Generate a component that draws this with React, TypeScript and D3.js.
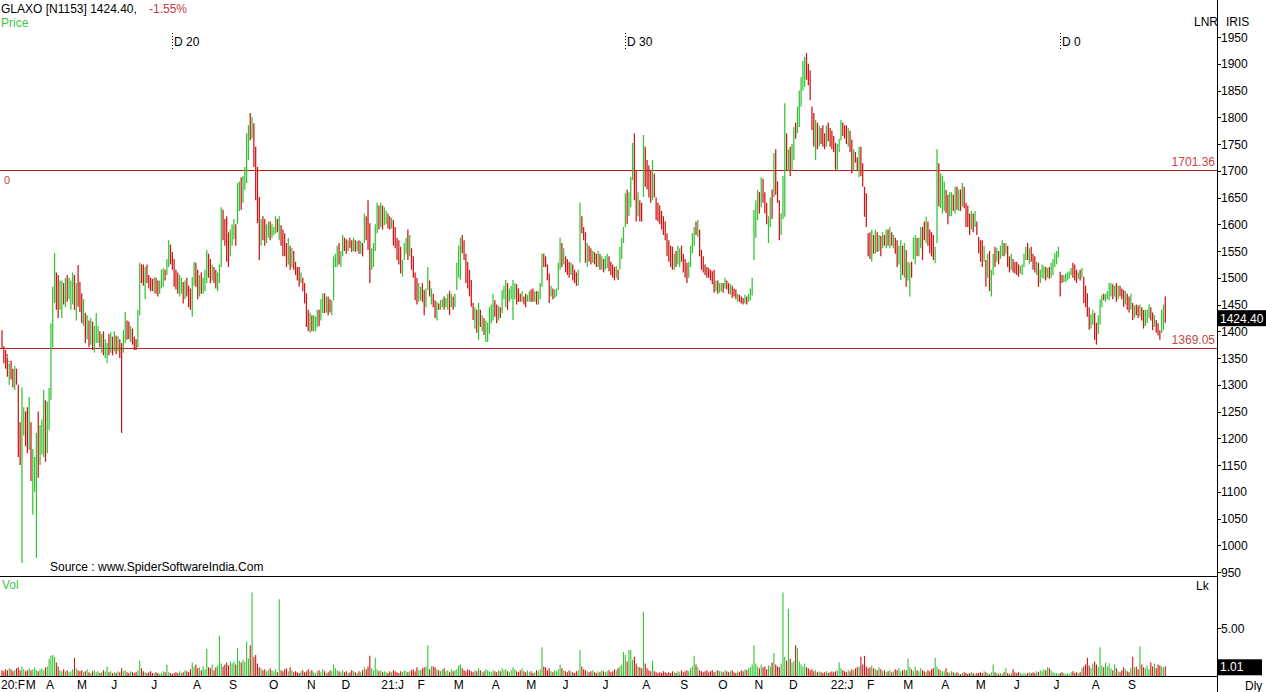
import React from "react";
import * as d3 from "d3";

// ---------- DATA ----------
const monthLabels = ["20:F","M","A","M","J","J","A","S","O","N","D","21:J","F","M","A","M","J","J","A","S","O","N","D","22:J","F","M","A","M","J","J","A","S"];

// bars: [high, low, close] per trading day, grouped by month
const bars2020: number[][][] = [
  [[1402,1368,1375],[1372,1340,1350],[1365,1330,1340],[1350,1315,1320],[1340,1300,1325]],
  [[1345,1310,1318],[1330,1295,1300],[1335,1290,1325],[1330,1300,1305],[1300,1165,1180],[1230,1150,1160],[1295,967,1200],[1258,1205,1215],[1250,1185,1190],[1258,1172,1180],[1277,1178,1250],[1230,1120,1130],[1180,1057,1150],[1165,1100,1160],[1210,976,1190],[1250,1126,1135],[1225,1150,1215],[1235,1170,1228],[1290,1165,1275],[1271,1156,1165],[1268,1172,1190]],
  [[1294,1215,1280],[1415,1272,1400],[1483,1370,1470],[1546,1453,1470],[1510,1440,1455],[1505,1425,1440],[1495,1440,1480],[1495,1425,1490],[1490,1450,1460],[1500,1445,1490],[1505,1455,1465],[1500,1460,1470],[1495,1440,1485],[1510,1450,1500],[1505,1440,1450],[1490,1420,1480],[1524,1446,1460]],
  [[1492,1436,1450],[1471,1415,1425],[1460,1410,1440],[1434,1378,1390],[1430,1385,1420],[1420,1370,1380],[1425,1375,1415],[1418,1365,1370],[1410,1360,1375],[1434,1378,1400],[1410,1378,1405],[1400,1370,1375],[1395,1360,1390],[1400,1355,1360],[1385,1350,1365],[1378,1340,1372],[1395,1355,1360],[1398,1360,1390],[1390,1355,1365]],
  [[1400,1362,1395],[1392,1357,1365],[1390,1362,1385],[1385,1350,1378],[1378,1210,1370],[1402,1360,1395],[1436,1378,1420],[1420,1384,1390],[1418,1385,1388],[1410,1380,1405],[1405,1375,1385],[1390,1365,1370],[1385,1365,1368],[1440,1370,1430],[1528,1430,1510],[1525,1490,1500],[1525,1485,1495],[1520,1460,1515],[1525,1490,1498],[1505,1480,1490],[1500,1475,1482],[1498,1475,1480]],
  [[1501,1471,1495],[1500,1470,1480],[1495,1465,1472],[1495,1470,1490],[1515,1480,1505],[1518,1483,1512],[1515,1495,1500],[1535,1505,1530],[1570,1520,1560],[1562,1525,1550],[1548,1515,1530],[1535,1483,1495],[1515,1478,1485],[1510,1470,1480],[1505,1465,1490],[1500,1470,1495],[1492,1452,1460],[1495,1460,1475],[1500,1465,1470],[1485,1445,1455],[1480,1440,1450],[1501,1427,1490],[1530,1485,1520]],
  [[1528,1483,1490],[1515,1460,1470],[1505,1465,1500],[1510,1470,1475],[1500,1470,1480],[1515,1475,1510],[1552,1490,1540],[1545,1500,1510],[1535,1490,1500],[1525,1495,1505],[1520,1490,1495],[1515,1480,1490],[1510,1475,1505],[1525,1490,1520],[1632,1520,1615],[1627,1570,1580],[1610,1560,1570],[1615,1530,1545],[1585,1520,1535],[1590,1540,1575]],
  [[1600,1560,1590],[1610,1572,1600],[1600,1560,1595],[1677,1600,1665],[1680,1625,1670],[1688,1627,1640],[1690,1640,1685],[1707,1664,1700],[1770,1677,1760],[1785,1720,1775],[1808,1757,1770],[1800,1760,1790],[1789,1707,1720],[1745,1645,1660],[1707,1602,1620],[1651,1533,1560],[1610,1560,1600],[1615,1570,1580],[1610,1560,1575],[1600,1565,1595],[1605,1575,1600],[1605,1570,1580]],
  [[1600,1575,1580],[1595,1580,1590],[1615,1583,1610],[1610,1585,1605],[1615,1570,1612],[1598,1560,1565],[1590,1540,1550],[1583,1540,1545],[1565,1520,1525],[1575,1525,1530],[1560,1515,1520],[1555,1520,1545],[1550,1515,1525],[1530,1505,1510],[1520,1495,1500],[1520,1483,1490],[1510,1490,1505],[1500,1475,1495],[1490,1452,1460],[1471,1408,1420],[1440,1400,1410]],
  [[1435,1397,1425],[1430,1400,1405],[1430,1400,1420],[1428,1400,1422],[1440,1408,1435],[1440,1410,1415],[1460,1420,1450],[1471,1434,1465],[1471,1434,1440],[1465,1435,1460],[1465,1430,1440],[1460,1435,1438],[1458,1430,1450],[1540,1458,1530],[1545,1520,1540],[1560,1520,1550],[1565,1525,1535],[1550,1520,1545],[1580,1540,1570]],
  [[1575,1550,1560],[1572,1545,1555],[1570,1550,1565],[1575,1555,1560],[1570,1548,1552],[1575,1550,1570],[1570,1548,1555],[1568,1550,1560],[1570,1545,1550],[1568,1545,1560],[1565,1540,1548],[1620,1565,1610],[1615,1570,1605],[1645,1552,1570],[1602,1490,1530],[1555,1515,1540],[1565,1520,1545],[1600,1550,1590],[1640,1583,1630],[1635,1590,1620],[1640,1595,1625],[1635,1590,1600]],
];

const bars2021: number[][][] = [
  [[1632,1598,1610],[1625,1600,1620],[1620,1592,1600],[1615,1590,1595],[1612,1592,1608],[1608,1560,1570],[1595,1555,1565],[1575,1533,1545],[1570,1525,1535],[1558,1508,1515],[1533,1502,1525],[1565,1533,1555],[1575,1545,1570],[1590,1533,1545],[1580,1540,1550],[1555,1515,1520],[1540,1500,1505],[1510,1458,1465],[1500,1450,1460],[1490,1455,1470]],
  [[1483,1458,1475],[1490,1455,1460],[1477,1430,1440],[1480,1445,1465],[1520,1477,1490],[1495,1465,1470],[1480,1450,1475],[1470,1445,1448],[1458,1425,1435],[1455,1420,1450],[1452,1440,1442],[1458,1440,1455],[1460,1445,1458],[1465,1440,1445],[1462,1445,1460],[1470,1440,1465],[1475,1430,1440],[1470,1445,1465],[1465,1440,1448],[1470,1445,1465]],
  [[1528,1477,1520],[1560,1500,1550],[1575,1496,1565],[1580,1546,1555],[1570,1533,1540],[1545,1490,1500],[1530,1480,1490],[1515,1465,1470],[1496,1446,1455],[1453,1421,1430],[1445,1405,1440],[1440,1397,1405],[1453,1384,1445],[1440,1408,1415],[1430,1400,1425],[1425,1393,1398],[1420,1380,1410],[1416,1380,1412],[1445,1395,1440],[1450,1415,1445],[1470,1420,1465]],
  [[1458,1427,1450],[1450,1415,1425],[1448,1420,1440],[1445,1425,1430],[1477,1434,1470],[1485,1460,1475],[1496,1445,1490],[1490,1440,1450],[1480,1455,1475],[1485,1460,1480],[1496,1421,1485],[1490,1460,1488],[1488,1450,1470],[1480,1455,1460],[1470,1455,1458],[1475,1455,1470],[1465,1450,1462],[1470,1445,1450],[1468,1455,1465]],
  [[1475,1455,1470],[1478,1455,1460],[1480,1455,1458],[1475,1455,1470],[1475,1450,1455],[1475,1450,1465],[1490,1460,1485],[1545,1483,1535],[1545,1520,1525],[1540,1520,1522],[1525,1495,1515],[1508,1453,1465],[1485,1465,1480],[1480,1460,1465],[1478,1462,1470],[1480,1465,1478],[1528,1477,1520],[1575,1515,1565],[1565,1520,1530],[1555,1525,1550]],
  [[1540,1510,1520],[1535,1505,1512],[1530,1500,1505],[1528,1505,1525],[1525,1495,1500],[1515,1490,1495],[1510,1485,1490],[1515,1485,1510],[1640,1528,1630],[1615,1583,1590],[1595,1570,1575],[1585,1528,1540],[1565,1520,1555],[1560,1530,1545],[1555,1525,1535],[1550,1528,1545],[1548,1525,1530],[1545,1520,1525],[1550,1520,1540],[1545,1515,1520],[1540,1515,1530],[1535,1510,1515]],
  [[1540,1515,1530],[1545,1518,1535],[1540,1512,1520],[1530,1505,1510],[1525,1500,1505],[1520,1495,1500],[1522,1500,1515],[1515,1496,1510],[1558,1515,1550],[1575,1535,1570],[1595,1565,1590],[1658,1595,1650],[1665,1600,1610],[1660,1615,1625],[1688,1632,1680],[1752,1683,1745],[1770,1645,1660],[1700,1605,1615],[1660,1615,1620],[1645,1605,1612],[1640,1605,1610],[1767,1651,1750]],
  [[1745,1670,1700],[1720,1665,1680],[1710,1650,1660],[1700,1640,1655],[1720,1645,1700],[1695,1650,1660],[1650,1608,1615],[1640,1605,1610],[1635,1600,1605],[1625,1590,1595],[1615,1580,1585],[1605,1570,1575],[1583,1540,1550],[1570,1530,1535],[1560,1520,1525],[1558,1515,1520],[1545,1515,1535],[1550,1520,1525],[1560,1525,1530],[1555,1520,1550],[1560,1530,1535]],
  [[1545,1510,1515],[1535,1500,1505],[1528,1490,1495],[1530,1500,1525],[1560,1520,1555],[1583,1546,1575],[1595,1560,1590],[1605,1580,1585],[1608,1576,1600],[1590,1540,1550],[1552,1515,1525],[1540,1510,1515],[1525,1505,1510],[1520,1500,1508],[1518,1500,1505],[1515,1495,1500],[1512,1488,1495],[1515,1472,1485],[1495,1475,1490],[1495,1470,1475],[1490,1472,1480]],
  [[1490,1475,1488],[1490,1472,1478],[1500,1480,1485],[1495,1478,1482],[1490,1470,1480],[1488,1468,1485],[1485,1462,1470],[1480,1465,1468],[1478,1460,1465],[1470,1455,1468],[1468,1455,1460],[1465,1452,1458],[1462,1450,1455],[1468,1452,1455],[1465,1450,1452],[1470,1455,1468],[1480,1458,1475],[1500,1467,1495],[1627,1533,1615],[1645,1575,1635]],
  [[1664,1608,1655],[1660,1620,1625],[1688,1632,1675],[1685,1640,1650],[1660,1620,1625],[1640,1600,1610],[1615,1565,1612],[1650,1595,1640],[1665,1610,1620],[1733,1651,1720],[1740,1655,1670],[1680,1640,1650],[1645,1570,1590],[1620,1580,1615],[1690,1610,1680],[1826,1614,1760],[1770,1700,1720],[1740,1700,1735],[1745,1690,1720]],
  [[1750,1700,1740],[1782,1720,1775],[1790,1760,1765],[1820,1770,1810],[1850,1782,1840],[1875,1820,1865],[1905,1850,1895],[1913,1857,1905],[1920,1870,1880],[1900,1860,1870],[1888,1832,1840],[1820,1776,1785],[1808,1745,1760],[1795,1720,1780],[1790,1740,1750],[1785,1745,1775],[1780,1750,1760],[1785,1745,1755],[1770,1740,1750],[1785,1745,1780],[1790,1755,1765],[1780,1745,1755],[1775,1740,1748]],
];

const bars2022: number[][][] = [
  [[1765,1735,1740],[1752,1702,1715],[1750,1700,1740],[1760,1735,1755],[1795,1757,1785],[1790,1765,1770],[1785,1760,1765],[1785,1750,1758],[1780,1745,1770],[1775,1735,1745],[1758,1695,1720],[1740,1700,1730],[1735,1715,1720],[1725,1700,1705],[1745,1688,1720],[1745,1690,1700],[1714,1670,1680],[1670,1614,1625],[1658,1595,1600],[1583,1540,1550]],
  [[1585,1535,1545],[1590,1530,1575],[1580,1545,1555],[1590,1545,1580],[1585,1548,1555],[1580,1550,1575],[1578,1540,1545],[1585,1555,1580],[1580,1560,1565],[1590,1555,1585],[1590,1560,1570],[1595,1555,1590],[1585,1560,1565],[1580,1555,1575],[1575,1545,1550],[1570,1520,1530],[1560,1525,1540],[1570,1496,1560],[1560,1505,1515],[1565,1500,1550]],
  [[1552,1483,1495],[1530,1495,1505],[1528,1465,1520],[1530,1500,1510],[1575,1535,1565],[1580,1525,1570],[1575,1540,1545],[1575,1540,1570],[1595,1555,1590],[1595,1533,1585],[1605,1570,1580],[1614,1565,1605],[1605,1560,1570],[1590,1546,1555],[1585,1540,1550],[1580,1533,1545],[1558,1528,1550],[1740,1565,1715],[1714,1633,1650],[1695,1630,1660],[1690,1620,1670]],
  [[1680,1625,1670],[1664,1621,1630],[1655,1600,1615],[1660,1615,1620],[1660,1615,1645],[1655,1625,1630],[1670,1620,1660],[1670,1627,1635],[1665,1625,1655],[1665,1625,1640],[1677,1633,1670],[1670,1630,1640],[1640,1595,1605],[1635,1595,1600],[1620,1580,1590],[1625,1590,1615],[1620,1585,1590],[1625,1595,1600],[1605,1580,1585]],
  [[1576,1546,1555],[1570,1530,1540],[1570,1520,1530],[1560,1530,1550],[1533,1483,1495],[1545,1500,1530],[1550,1475,1490],[1515,1465,1510],[1545,1505,1535],[1558,1520,1525],[1555,1530,1540],[1550,1525,1530],[1560,1535,1555],[1570,1540,1565],[1565,1540,1545],[1565,1545,1560],[1560,1520,1530],[1540,1510,1515],[1545,1515,1520],[1535,1510,1515],[1530,1508,1512]],
  [[1530,1505,1510],[1525,1502,1508],[1522,1508,1510],[1525,1505,1520],[1545,1520,1540],[1558,1533,1550],[1565,1533,1545],[1555,1525,1550],[1558,1530,1535],[1545,1515,1520],[1540,1510,1515],[1530,1505,1525],[1528,1483,1495],[1515,1490,1500],[1525,1500,1505],[1522,1498,1510],[1520,1495,1500],[1518,1500,1515],[1520,1498,1502],[1528,1500,1520],[1535,1505,1530],[1546,1520,1540]],
  [[1550,1525,1545],[1558,1538,1552],[1511,1465,1500],[1505,1490,1495],[1505,1492,1500],[1508,1492,1505],[1510,1495,1508],[1512,1498,1510],[1518,1505,1515],[1528,1500,1505],[1525,1495,1500],[1515,1490,1495],[1510,1498,1505],[1515,1495,1500],[1518,1500,1510],[1502,1453,1462],[1485,1445,1450],[1471,1427,1435],[1445,1403,1410],[1432,1405,1415],[1440,1412,1430]],
  [[1434,1384,1395],[1416,1375,1385],[1430,1395,1420],[1460,1412,1450],[1468,1445,1462],[1470,1458,1460],[1470,1455,1468],[1475,1460,1472],[1490,1458,1485],[1490,1465,1488],[1488,1460,1470],[1485,1465,1480],[1490,1455,1465],[1485,1460,1478],[1485,1465,1470],[1480,1460,1465],[1477,1446,1452],[1475,1450,1458],[1470,1440,1445],[1465,1435,1440]],
  [[1470,1440,1448],[1453,1421,1430],[1448,1425,1442],[1450,1430,1435],[1448,1425,1430],[1450,1428,1446],[1445,1420,1440],[1440,1405,1430],[1440,1410,1436],[1440,1415,1438],[1450,1425,1445],[1445,1420,1428],[1435,1402,1410],[1430,1408,1425],[1421,1397,1405],[1415,1392,1398],[1402,1384,1390],[1440,1397,1435],[1450,1402,1446.8],[1465,1416,1424.4]],
];

// volume in lakh shares, per trading day, grouped by month
const vol2020: number[][] = [
  [0.6,0.5,0.7,0.6,0.8],
  [0.7,0.5,0.6,0.8,0.9,0.6,1.0,0.7,0.5,0.6,0.8,0.6,0.7,0.9,0.6,0.5,0.7,0.8,0.6,0.9,1.0],
  [1.8,2.1,2.2,2.0,1.4,1.0,0.6,0.5,0.7,0.5,0.6,0.4,0.5,0.7,1.9,0.8,0.6],
  [0.5,0.6,0.4,0.5,0.7,0.4,0.3,0.5,0.6,0.4,0.5,0.3,0.4,0.6,0.5,1.0,0.4,0.5,0.3],
  [0.4,0.3,0.5,0.4,0.8,0.5,0.6,0.4,0.3,0.5,0.4,0.3,0.4,0.6,1.6,0.8,0.5,0.4,0.3,0.4,0.5,0.3],
  [0.3,0.4,0.3,0.2,0.3,0.5,0.4,1.2,0.4,0.3,0.2,0.3,0.4,0.3,0.5,0.3,0.4,0.6,0.5,0.4,0.7,1.4,1.0],
  [1.2,0.8,0.9,0.6,1.0,0.7,2.8,0.9,0.8,1.2,0.6,0.9,1.1,4.2,1.3,1.0,1.2,1.4,1.1,1.5],
  [1.3,1.5,1.2,2.9,1.6,1.4,1.7,1.5,3.6,1.8,3.2,8.7,2.0,2.2,1.3,0.9,0.8,0.6,0.7,0.5,0.6,0.8],
  [0.6,0.5,0.7,0.4,8.0,0.6,0.5,0.7,0.8,0.5,0.9,0.6,0.4,0.5,0.4,0.3,0.5,0.6,0.4,0.5,0.7],
  [0.5,0.6,0.4,0.3,0.5,0.6,0.4,0.7,0.5,0.3,0.4,0.6,0.5,1.2,0.8,0.6,0.5,0.4,0.6],
  [0.4,0.5,0.3,0.4,0.6,0.5,0.4,0.3,0.5,0.4,0.6,0.9,0.7,1.0,2.1,0.8,0.6,1.9,0.7,0.5,0.6,0.4],
];
const vol2021: number[][] = [
  [0.5,0.4,0.3,0.5,0.4,0.6,0.5,0.4,0.3,0.5,0.4,0.6,0.5,0.4,0.5,0.6,0.7,0.5,0.9,0.6],
  [0.6,0.8,0.9,1.0,3.2,0.7,1.0,1.0,0.9,0.7,0.6,0.5,0.7,0.8,0.5,0.6,0.4,0.7,0.5,0.6],
  [0.7,1.1,1.2,0.8,0.6,0.5,0.7,0.6,0.5,0.4,0.6,0.5,0.8,0.6,0.4,0.5,0.7,0.6,0.5,0.4,0.6],
  [0.5,0.4,0.6,0.5,0.8,0.6,0.7,0.5,0.4,0.6,0.9,0.7,0.5,0.4,0.6,0.8,0.5,0.4,0.6],
  [0.4,0.5,0.3,0.4,0.6,0.5,0.7,3.0,1.0,0.9,0.6,0.8,0.5,0.4,0.6,0.5,0.7,1.2,0.8,0.6],
  [0.5,0.4,0.6,0.5,0.4,0.3,0.5,0.6,2.7,1.0,0.7,0.6,0.5,0.4,0.5,0.6,0.4,0.3,0.5,0.4,0.6,0.5],
  [0.4,0.5,0.6,0.4,0.5,0.7,0.6,0.8,1.0,1.2,2.5,2.2,1.5,2.7,2.7,1.7,2.0,1.3,1.0,0.9,0.8,6.7],
  [1.3,0.8,0.6,0.5,1.6,0.5,0.4,0.3,0.4,0.3,0.5,0.4,0.3,0.4,0.3,0.5,0.4,0.3,0.5,0.4,0.6],
  [0.4,0.5,0.6,0.5,0.8,1.0,2.1,1.2,0.9,0.6,0.5,0.4,0.5,0.6,0.4,0.5,0.6,0.4,0.5,0.6,0.5],
  [0.5,0.4,0.6,0.5,0.4,0.5,0.6,0.4,0.3,0.5,0.4,0.6,0.5,0.7,0.6,0.8,0.9,1.2,3.2,1.3],
  [1.0,0.8,1.2,0.9,1.0,0.7,1.1,1.0,1.4,2.4,1.2,1.0,0.9,1.3,8.7,2.0,1.6,7.0,1.8],
  [1.4,1.6,3.2,2.9,1.5,1.2,1.0,1.3,0.9,0.8,0.6,0.7,0.5,0.6,0.4,0.5,0.4,0.3,0.4,0.5,0.3,0.4,0.5],
];
const vol2022: number[][] = [
  [0.4,0.5,0.6,1.4,0.8,0.6,0.5,0.4,0.6,0.5,0.7,0.6,0.8,0.9,1.0,2.0,1.2,2.1,1.0,0.8],
  [0.9,1.1,0.8,0.7,0.6,0.9,0.7,0.5,0.6,0.4,0.5,0.6,0.4,0.5,0.7,0.6,0.8,0.5,0.6,0.7],
  [0.6,1.8,0.9,0.7,0.5,1.0,0.6,0.5,0.8,0.6,0.5,0.4,0.6,0.5,0.7,0.8,1.9,1.0,0.7,0.6,0.5],
  [0.5,0.8,0.4,0.3,0.5,0.4,0.3,0.4,0.3,0.2,0.3,0.4,0.3,0.2,0.3,0.4,0.3,0.2,0.3],
  [0.3,0.4,0.3,0.5,0.4,0.3,0.2,0.4,1.2,0.4,0.3,0.2,0.3,0.2,0.4,0.8,0.3,0.2,0.3,0.7,0.4],
  [0.3,0.4,0.3,0.2,0.3,0.2,0.3,0.4,0.3,0.4,0.3,0.5,0.4,0.6,0.5,0.7,0.6,0.9,0.8,0.6,0.4,0.3],
  [0.3,0.2,0.3,0.4,0.3,0.2,0.3,0.2,0.4,0.5,0.3,0.4,0.3,0.4,0.8,1.0,1.2,1.9,1.1,0.8,1.3],
  [1.5,1.2,1.0,3.0,1.1,0.9,1.4,1.0,1.3,0.8,0.6,1.2,0.8,0.5,0.4,0.6,0.9,0.7,0.5,0.4],
  [0.8,2.0,0.9,1.0,0.7,3.1,1.2,0.9,0.8,1.1,0.7,1.4,1.0,1.3,0.8,1.2,1.1,1.0,0.9,1.01],
];

const priceTicks = [950,1000,1050,1100,1150,1200,1250,1300,1350,1400,1450,1500,1550,1600,1650,1700,1750,1800,1850,1900,1950];
const volTicks = [5];
const levelValues = [1701.36, 1369.05];
const levelNames = ["0", "1"];
const markerIndex = [94, 344, 584];
const markerLabels = ["D 20", "D 30", "D 0"];
const symbolTitle = "GLAXO [N1153] 1424.40,";
const changeText = "-1.55%";
const lastClose = 1424.40;
const lastVolume = 1.01;

// ---------- LAYOUT ----------
const W = 1266, H = 692;
const AXIS_X = 1217;
const FONT = "'Liberation Sans', Arial, sans-serif";
const GREEN = "#33c433";
const RED = "#cc1515";
const LEVEL = "#b42020";
const LEVEL_TXT = "#c04848";

const months = [...bars2020, ...bars2021, ...bars2022];
const volMonths = [...vol2020, ...vol2021, ...vol2022];
const bars: number[][] = months.flat();
const vols: number[] = volMonths.flat();
const monthStart: number[] = [];
{
  let acc = 0;
  months.forEach((m) => { monthStart.push(acc); acc += m.length; });
}
const N = bars.length;

const x = d3.scaleLinear().domain([0, N - 1]).range([2, 2 + (N - 1) * 1.812]);
const y = d3.scaleLinear().domain([950, 1950]).range([572, 37]);
const vy = d3.scaleLinear().domain([0, 5]).range([676, 628]);

function textWidth(s: string) {
  let w = 0;
  for (const ch of s) {
    if (ch === ":") w += 3.4;
    else if (ch === "M") w += 10;
    else if (/[0-9]/.test(ch)) w += 6.7;
    else w += 7.5;
  }
  return w;
}

export default function App() {
  const up = bars.map((b, i) => (i === 0 ? b[2] >= (b[0] + b[1]) / 2 : b[2] >= bars[i - 1][2]));

  const labelPos: number[] = [];
  let prevEnd = 0;
  monthLabels.forEach((lab, k) => {
    const lx = Math.max(1, x(monthStart[k]) - 3, prevEnd);
    labelPos.push(lx);
    prevEnd = lx + textWidth(lab) + 0.5;
  });

  return (
    <div style={{ position: "absolute", left: 0, top: 0 }}>
      <svg width={W} height={H} style={{ display: "block", background: "#fff", fontFamily: FONT }}>
        <rect x={0} y={0} width={W} height={H} fill="#fff" />

        <text x={1} y={13} fontSize={12} fill="#000">{symbolTitle}</text>
        <text x={149} y={13} fontSize={12} fill="#c83c3c">{changeText}</text>
        <text x={1} y={27} fontSize={12} fill="#44c444">Price</text>

        {markerIndex.map((mi, k) => (
          <g key={"m" + k}>
            <line x1={Math.round(x(mi)) + 0.5} x2={Math.round(x(mi)) + 0.5} y1={33} y2={50} stroke="#000" strokeDasharray="1,2" />
            <text x={Math.round(x(mi)) + 2} y={46} fontSize={12} fill="#000">{markerLabels[k]}</text>
          </g>
        ))}

        {levelValues.map((v, k) => (
          <line key={"lv" + k} x1={0} x2={AXIS_X} y1={Math.round(y(v)) + 0.5} y2={Math.round(y(v)) + 0.5} stroke={LEVEL} strokeWidth={1} />
        ))}

        <g>
          {bars.map((b, i) => {
            const xi = x(i);
            return (
              <line key={"b" + i} x1={xi} x2={xi} y1={y(b[0])} y2={y(b[1])} stroke={up[i] ? GREEN : RED} strokeWidth={1.25} />
            );
          })}
        </g>

        {levelValues.map((v, k) => (
          <g key={"lt" + k}>
            <text x={1215} y={y(v) - 4} fontSize={12} fill={LEVEL_TXT} textAnchor="end">{v.toFixed(2)}</text>
            <text x={4} y={y(v) + 14} fontSize={11} fill={LEVEL_TXT}>{levelNames[k]}</text>
          </g>
        ))}

        <text x={50} y={571} fontSize={12} fill="#000">Source : www.SpiderSoftwareIndia.Com</text>

        <line x1={0} x2={AXIS_X} y1={576.5} y2={576.5} stroke="#000" />
        <line x1={0} x2={AXIS_X} y1={676.5} y2={676.5} stroke="#000" />
        <line x1={AXIS_X + 0.5} x2={AXIS_X + 0.5} y1={0} y2={H} stroke="#000" />

        <text x={2} y={589} fontSize={12} fill="#44c444">Vol</text>
        <g>
          {vols.map((v, i) => (
            <line key={"v" + i} x1={x(i)} x2={x(i)} y1={vy(0)} y2={vy(v)} stroke={up[i] ? GREEN : RED} strokeWidth={1.1} />
          ))}
        </g>

        <text x={1194} y={26} fontSize={12} fill="#000">LNR</text>
        <text x={1226} y={26} fontSize={12} fill="#000">IRIS</text>
        {priceTicks.map((t) => (
          <g key={"t" + t}>
            <line x1={AXIS_X} x2={AXIS_X + 4} y1={Math.round(y(t)) + 0.5} y2={Math.round(y(t)) + 0.5} stroke="#000" />
            <text x={1221} y={y(t) + 4.5} fontSize={12} fill="#000">{t}</text>
          </g>
        ))}
        <rect x={1218} y={y(lastClose) - 8} width={48} height={16} fill="#000" />
        <text x={1220} y={y(lastClose) + 4.5} fontSize={12} fill="#fff">{lastClose.toFixed(2)}</text>

        <text x={1196} y={590} fontSize={12} fill="#000">Lk</text>
        {volTicks.map((t) => (
          <g key={"vt" + t}>
            <line x1={AXIS_X} x2={AXIS_X + 4} y1={Math.round(vy(t)) + 0.5} y2={Math.round(vy(t)) + 0.5} stroke="#000" />
            <text x={1221} y={vy(t) + 4.5} fontSize={12} fill="#000">{t.toFixed(2)}</text>
          </g>
        ))}
        <rect x={1218} y={vy(lastVolume) - 7} width={44} height={16} fill="#000" />
        <text x={1220} y={vy(lastVolume) + 5} fontSize={12} fill="#fff">{lastVolume.toFixed(2)}</text>
        <text x={1245} y={690} fontSize={12} fill="#000">Dly</text>

        {monthLabels.map((lab, k) => (
          <text key={"ml" + k} x={labelPos[k]} y={689} fontSize={12} fill="#000">{lab}</text>
        ))}
      </svg>
    </div>
  );
}
